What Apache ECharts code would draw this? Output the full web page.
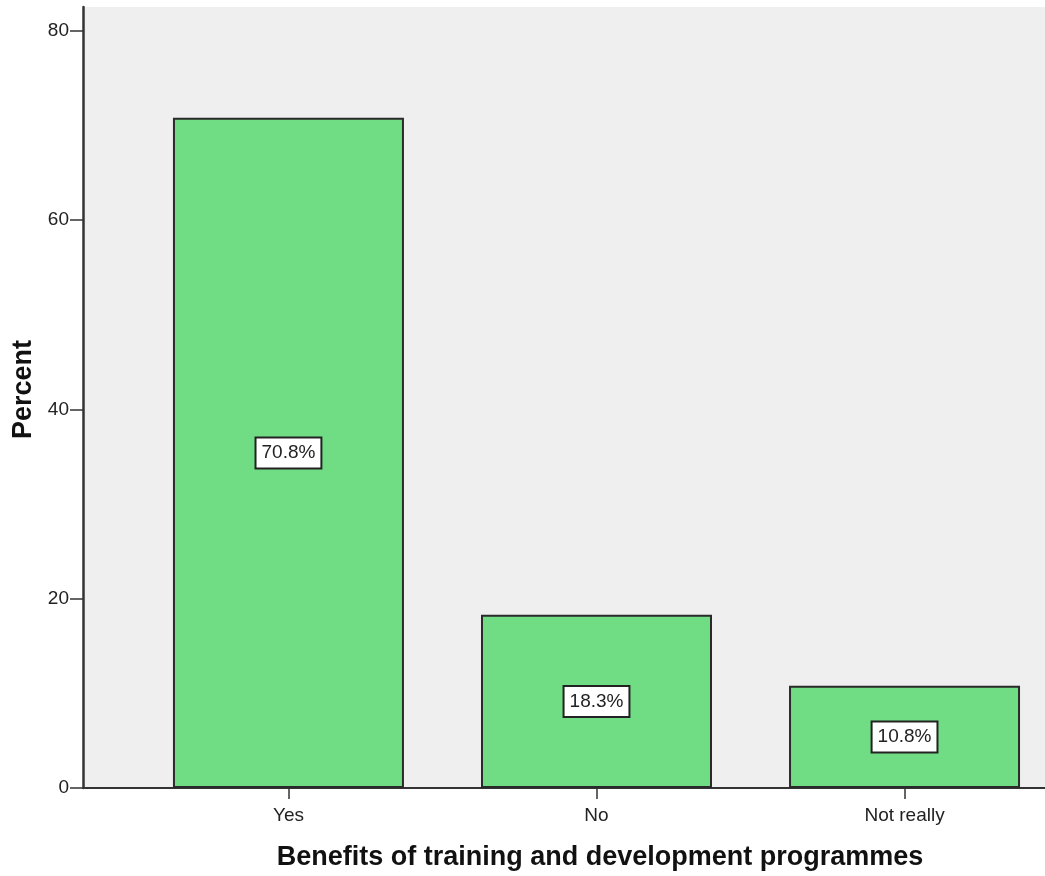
<!DOCTYPE html>
<html><head><meta charset="utf-8">
<script src="https://cdn.jsdelivr.net/npm/echarts@6/dist/echarts.min.js"></script>
<style>html,body{margin:0;padding:0;background:#fff}#c{width:1045px;height:876px}</style>
</head><body><div id="c"></div>
<script>
const categories = ['Yes', 'No', 'Not really'];
const percents = [70.8, 18.3, 10.8];
const yTicks = [0, 20, 40, 60, 80];

const chart = echarts.init(document.getElementById('c'), null, {renderer: 'canvas'});
const catIdx = categories.map((c, i) => i);
chart.setOption({
  animation: false,
  grid: {left: 83, right: 0, top: 7, bottom: 87, show: true, backgroundColor: '#efefef', borderWidth: 0},
  xAxis: {
    type: 'value', min: -0.667, max: 2.456,
    name: 'Benefits of training and development programmes',
    nameLocation: 'middle', nameGap: 56,
    nameTextStyle: {fontFamily: 'Liberation Sans', fontWeight: 'bold', fontSize: 27, color: '#111', padding: [0, 0, 0, 72]},
    axisLine: {show: true, onZero: false, lineStyle: {color: '#333', width: 2}},
    axisTick: {show: true, customValues: catIdx, length: 11, lineStyle: {color: '#333', width: 1.5}},
    axisLabel: {show: true, customValues: catIdx, formatter: v => categories[Math.round(v)] || '', fontFamily: 'Liberation Sans', fontSize: 19, color: '#222', margin: 18},
    splitLine: {show: false}
  },
  yAxis: {
    type: 'value', min: 0, max: 82.5, interval: 20,
    name: 'Percent', nameLocation: 'middle', nameGap: 44, nameRotate: 90,
    nameTextStyle: {fontFamily: 'Liberation Sans', fontWeight: 'bold', fontSize: 27, color: '#111', padding: [0, 0, 0, 16]},
    axisLine: {show: true, onZero: false, lineStyle: {color: '#333', width: 2.5}},
    axisTick: {show: true, customValues: yTicks, length: 13, lineStyle: {color: '#333', width: 1.5}},
    axisLabel: {customValues: yTicks, fontFamily: 'Liberation Sans', fontSize: 19, color: '#222', margin: 14},
    splitLine: {show: false}
  },
  series: [{
    type: 'bar', barWidth: 231,
    data: percents.map((p, i) => [i, p]),
    itemStyle: {color: '#70dc84', borderColor: '#2a2a2a', borderWidth: 2},
    label: {
      show: true, position: 'inside', formatter: p => p.value[1].toFixed(1) + '%',
      fontFamily: 'Liberation Sans', fontSize: 19, color: '#222',
      backgroundColor: '#fff', borderColor: '#222', borderWidth: 2,
      padding: [6, 5, 4, 5]
    }
  }]
});
</script></body></html>
